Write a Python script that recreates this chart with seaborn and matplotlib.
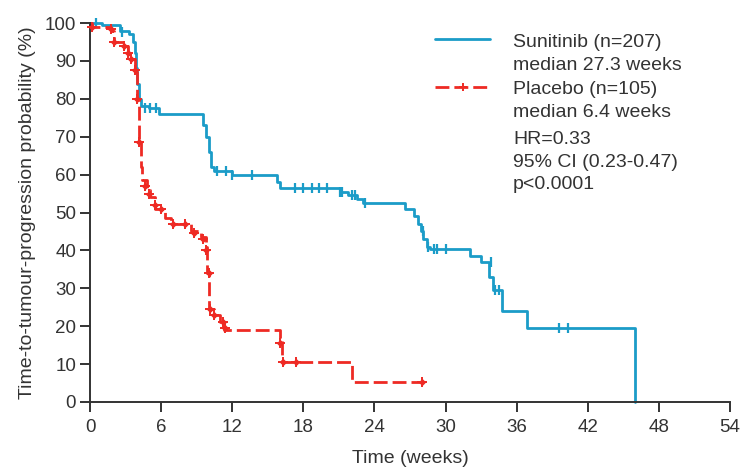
import matplotlib
matplotlib.use("Agg")
import matplotlib.pyplot as plt
from matplotlib.lines import Line2D
import seaborn as sns
import pandas as pd

# Kaplan-Meier steps (weeks, % free of progression)
suni_t = [0, 1.0, 2.5, 3.3, 3.6, 3.8, 3.9, 4.0, 4.1, 4.3, 5.0, 5.8, 9.5, 9.8, 10.0, 10.2, 10.5,
          12.0, 15.8, 16.0, 21.1, 21.8, 22.5, 23.0, 26.6, 27.3, 27.7, 27.9, 28.1, 28.4, 28.7,
          32.1, 33.0, 33.7, 34.0, 34.8, 36.9, 46.0]
suni_s = [100, 99.5, 98, 97, 95, 92, 88, 84, 80, 78, 77.5, 76, 73, 70, 66, 62, 61,
          60, 58, 56.5, 55.5, 54.5, 53.5, 52.5, 51, 49, 47, 45, 43, 41, 40.5,
          38.5, 37, 33, 29.5, 24, 19.5, 0]
suni_cens_t = [0.5, 2.7, 4.6, 5.1, 5.6, 10.7, 11.5, 12.0, 13.7, 17.3, 18.0, 18.7, 19.3, 20.0,
               21.1, 21.3, 22.1, 22.4, 23.2, 28.1, 28.5, 29.0, 29.3, 30.0, 33.8, 34.2, 34.5, 39.6, 40.3]
suni_cens_s = [100, 97.6, 77.5, 77.5, 77.5, 61, 61, 60, 60, 56.5, 56.5, 56.5, 56.5, 56.5,
               55.5, 55.5, 54.5, 54.5, 52.5, 45, 41, 40.5, 40.5, 40.5, 37, 29.5, 29.5, 19.5, 19.5]

plac_t = [0, 0.2, 1.8, 2.0, 2.8, 3.2, 3.8, 4.0, 4.1, 4.3, 4.4, 4.8, 5.1, 5.5, 6.3, 6.8, 8.5,
          9.4, 9.8, 9.9, 10.0, 10.5, 11.0, 11.3, 16.0, 16.2, 22.1, 28.0]
plac_s = [100, 99, 98, 95, 94, 90.5, 87, 80, 69, 62, 58.5, 56, 54, 51, 48.5, 47, 45,
          43.5, 41, 34, 24.5, 23, 21, 19, 16, 10.5, 5.3, 5.3]
plac_cens_t = [0.2, 1.8, 2.0, 2.9, 3.2, 3.5, 3.8, 4.0, 4.1, 4.6, 5.0, 5.5, 6.0, 7.0, 8.0,
               8.8, 9.5, 9.8, 10.0, 10.1, 10.5, 11.2, 11.4, 16.0, 16.3, 17.4, 28.0]
plac_cens_s = [99, 98.5, 95, 94, 92, 90.5, 87.5, 80, 68.5, 57, 55, 52, 51, 47, 47,
               44.5, 43, 40, 34, 24.5, 23, 21, 19.5, 15.5, 10.5, 10.5, 5.3]

key_lines = ["Sunitinib (n=207)", "median 27.3 weeks", "Placebo (n=105)", "median 6.4 weeks",
             "HR=0.33", "95% CI (0.23-0.47)", "p<0.0001"]

blue = "#1b9cc8"
red = "#ee2a24"
dark = "#333333"
dash = (0, (5, 1.8))

sns.set_style("ticks")
plt.rcParams['font.family'] = ['Liberation Sans', 'DejaVu Sans']

fig = plt.figure(figsize=(7.4, 4.68), dpi=100)
ax = fig.add_axes([90 / 740, 66 / 468, 640 / 740, 379 / 468])

suni = pd.DataFrame({'t': suni_t, 's': suni_s})
plac = pd.DataFrame({'t': plac_t, 's': plac_s})

sns.lineplot(data=suni, x='t', y='s', ax=ax, color=blue, lw=2, drawstyle='steps-post',
             estimator=None, sort=False, clip_on=False)
sns.lineplot(data=plac, x='t', y='s', ax=ax, color=red, lw=2, drawstyle='steps-post',
             estimator=None, sort=False, dashes=False, clip_on=False, linestyle=dash)
ax.scatter(suni_cens_t, suni_cens_s, marker='|', s=55, color=blue, linewidths=1.6, clip_on=False, zorder=3)
ax.scatter(plac_cens_t, plac_cens_s, marker='D', s=14, color=red, linewidths=0, clip_on=False, zorder=3)
ax.scatter(plac_cens_t, plac_cens_s, marker='+', s=45, color=red, linewidths=1.4, clip_on=False, zorder=3)

ax.set_xlim(0, 54)
ax.set_ylim(0, 100)
ax.set_xticks(range(0, 55, 6))
ax.set_yticks(range(0, 101, 10))
ax.tick_params(axis='both', labelsize=13.5, colors=dark, length=7, width=1.4, direction='out')
ax.tick_params(axis='x', pad=5)
ax.tick_params(axis='y', pad=3)
for sp in ['left', 'bottom']:
    ax.spines[sp].set_color(dark)
    ax.spines[sp].set_linewidth(1.4)
sns.despine(ax=ax)

ax.set_xlabel("Time (weeks)", fontsize=14, color=dark, labelpad=10)
ax.set_ylabel("Time-to-tumour-progression probability (%)", fontsize=14, color=dark, labelpad=6)

# key drawn by hand: handle sits on the first line of each two-line label
for col, ls, mk, yc in [(blue, '-', None, 39), (red, dash, '+', 87)]:
    yf = 1 - yc / 468
    fig.add_artist(Line2D([435 / 740, 490 / 740], [yf, yf], color=col, lw=2, linestyle=ls,
                          transform=fig.transFigure))
    if mk:
        fig.add_artist(Line2D([463 / 740], [yf], color=col, marker=mk, ms=6, mew=1.4,
                              transform=fig.transFigure))
for txt, yc in zip(key_lines, [40, 63, 87, 110, 137, 160, 182]):
    fig.text(513 / 740, 1 - (yc + 7) / 468, txt, fontsize=14, color=dark, va='baseline', ha='left')

fig.savefig("out.png", dpi=100)
